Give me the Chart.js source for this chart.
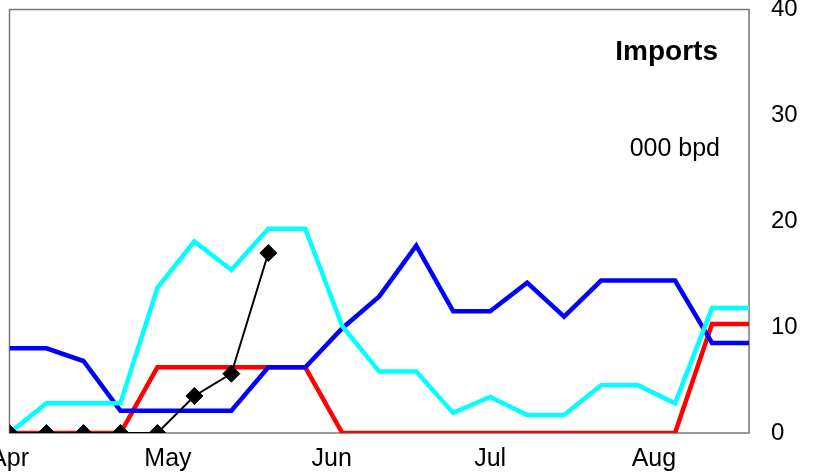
<!DOCTYPE html>
<html>
<head>
<meta charset="utf-8">
<script src="https://cdn.jsdelivr.net/npm/chart.js@4.4.0/dist/chart.umd.min.js"></script>
<style>
  html, body { margin: 0; padding: 0; background: #fff; }
  #wrap { width: 813px; height: 474px; }
</style>
</head>
<body>
<div id="wrap"><canvas id="canvas-1"></canvas></div>
<script>
// days since 1 Apr, one point per week
var days = [0, 7, 14, 21, 28, 35, 42, 49, 56, 63, 70, 77, 84, 91, 98, 105, 112, 119, 126, 133, 140];
var monthDays = [0, 30, 61, 91, 122];
var monthLabels = ['Apr', 'May', 'Jun', 'Jul', 'Aug'];
var yTicks = [0, 10, 20, 30, 40];

var blueVals = [8.0, 8.0, 6.8, 2.1, 2.1, 2.1, 2.1, 6.2, 6.2, 9.9, 12.9, 17.7, 11.5, 11.5, 14.2, 11.0, 14.4, 14.4, 14.4, 8.5, 8.5];
var cyanVals = [0, 2.8, 2.8, 2.8, 13.7, 18.1, 15.4, 19.3, 19.3, 10.1, 5.8, 5.8, 1.9, 3.4, 1.7, 1.7, 4.5, 4.5, 2.8, 11.8, 11.8];
var redVals = [0, 0, 0, 0, 6.2, 6.2, 6.2, 6.2, 6.2, 0, 0, 0, 0, 0, 0, 0, 0, 0, 0, 10.3, 10.3];
var blackVals = [0, 0, 0, 0, 0, 3.5, 5.6, 17.0];

function pts(vals) {
  return vals.map(function (v, i) { return { x: days[i], y: v }; });
}

var FONT = '"Liberation Sans", Arial, sans-serif';

var frame = {
  id: 'frame',
  beforeDatasetsDraw: function (chart) {
    var a = chart.chartArea, c = chart.ctx;
    c.save();
    c.strokeStyle = '#777';
    c.lineWidth = 1.5;
    c.strokeRect(a.left, a.top, a.right - a.left, a.bottom - a.top);
    c.restore();
  },
  afterDraw: function (chart) {
    var c = chart.ctx;
    c.save();
    c.fillStyle = '#000';
    c.textAlign = 'right';
    c.textBaseline = 'alphabetic';
    c.font = 'bold 28px ' + FONT;
    c.fillText('Imports', 718, 60);
    c.font = '25px ' + FONT;
    c.fillText('000 bpd', 720, 156);
    c.restore();
  }
};

function noPad(scale) {
  scale.paddingLeft = 0; scale.paddingRight = 0;
  scale.paddingTop = 0; scale.paddingBottom = 0;
}

var lineOpts = { fill: false, tension: 0, pointRadius: 0, pointHoverRadius: 0, borderWidth: 4.5 };

var ctx = document.getElementById('canvas-1');
var chart = new Chart(ctx, {
  type: 'line',
  data: {
    datasets: [
      Object.assign({ label: 'Red', data: pts(redVals), borderColor: '#ff0000', order: 4 }, lineOpts),
      Object.assign({ label: 'Blue', data: pts(blueVals), borderColor: '#0000ff', order: 3 }, lineOpts),
      Object.assign({ label: 'Cyan', data: pts(cyanVals), borderColor: '#00ffff', order: 2 }, lineOpts),
      {
        label: 'Black', data: pts(blackVals), borderColor: '#000', backgroundColor: '#000',
        borderWidth: 2, tension: 0, fill: false, order: 1,
        pointStyle: 'rectRot', pointRadius: 8.5, pointBorderWidth: 1, pointBackgroundColor: '#000'
      }
    ]
  },
  options: {
    responsive: true,
    maintainAspectRatio: false,
    animation: false,
    layout: { padding: { left: 7, top: 9, right: 0, bottom: 0 } },
    plugins: { legend: { display: false }, tooltip: { enabled: false } },
    scales: {
      x: {
        type: 'linear', min: 0, max: 140,
        grid: { display: false, drawTicks: false },
        border: { display: false },
        afterBuildTicks: function (scale) {
          scale.ticks = monthDays.map(function (d) { return { value: d }; });
        },
        afterFit: function (scale) { noPad(scale); scale.height = 41; },
        ticks: {
          padding: 11, maxRotation: 0, autoSkip: false, color: '#000',
          font: { family: FONT, size: 25 },
          callback: function (v) { return monthLabels[monthDays.indexOf(v)]; }
        }
      },
      y: {
        position: 'right', min: 0, max: 40,
        grid: { display: false, drawTicks: false },
        border: { display: false },
        afterBuildTicks: function (scale) {
          scale.ticks = yTicks.map(function (v) { return { value: v }; });
        },
        afterFit: function (scale) { noPad(scale); scale.width = 64; },
        ticks: {
          padding: 22, color: '#000',
          font: { family: FONT, size: 24 }
        }
      }
    }
  },
  plugins: [frame]
});
</script>
</body>
</html>
